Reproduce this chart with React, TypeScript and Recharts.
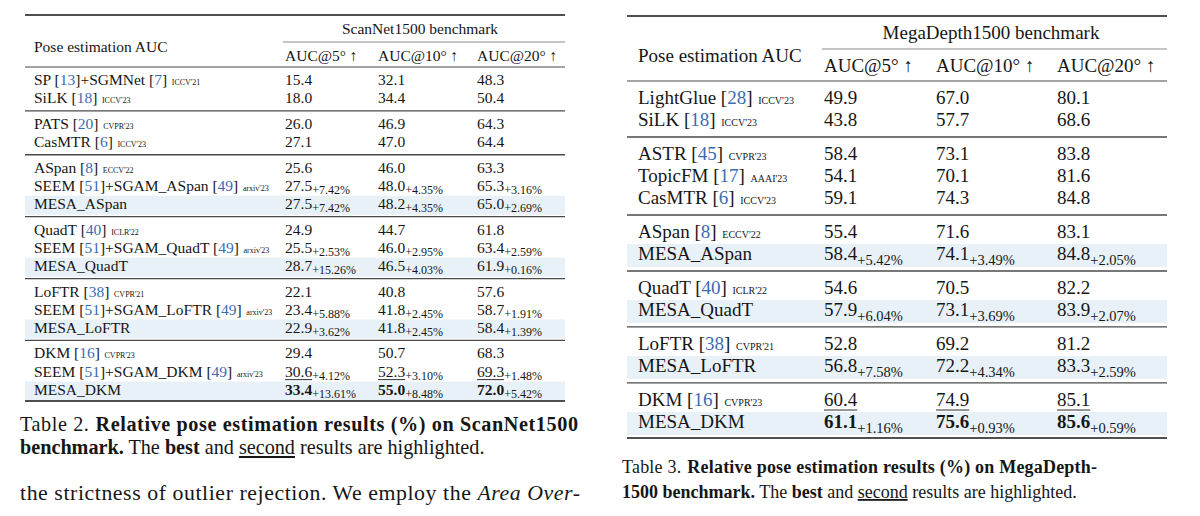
import React from 'react';
import { ScatterChart, Scatter, XAxis, YAxis, ReferenceLine, ReferenceArea } from 'recharts';

// Table 2: ScanNet1500
const scanTitle = 'ScanNet1500 benchmark';
const scanMethods = [
  'SP [13]+SGMNet [7]', 'SiLK [18]',
  'PATS [20]', 'CasMTR [6]',
  'ASpan [8]', 'SEEM [51]+SGAM_ASpan [49]', 'MESA_ASpan',
  'QuadT [40]', 'SEEM [51]+SGAM_QuadT [49]', 'MESA_QuadT',
  'LoFTR [38]', 'SEEM [51]+SGAM_LoFTR [49]', 'MESA_LoFTR',
  'DKM [16]', 'SEEM [51]+SGAM_DKM [49]', 'MESA_DKM',
];
const scanVenues = ["ICCV'21", "ICCV'23", "CVPR'23", "ICCV'23", "ECCV'22", "arxiv'23", '', "ICLR'22", "arxiv'23", '', "CVPR'21", "arxiv'23", '', "CVPR'23", "arxiv'23", ''];
const scanGroups = [0, 0, 1, 1, 2, 2, 2, 3, 3, 3, 4, 4, 4, 5, 5, 5];
const scanAuc5 = [15.4, 18.0, 26.0, 27.1, 25.6, 27.5, 27.5, 24.9, 25.5, 28.7, 22.1, 23.4, 22.9, 29.4, 30.6, 33.4];
const scanAuc10 = [32.1, 34.4, 46.9, 47.0, 46.0, 48.0, 48.2, 44.7, 46.0, 46.5, 40.8, 41.8, 41.8, 50.7, 52.3, 55.0];
const scanAuc20 = [48.3, 50.4, 64.3, 64.4, 63.3, 65.3, 65.0, 61.8, 63.4, 61.9, 57.6, 58.7, 58.4, 68.3, 69.3, 72.0];
const scanGain5 = [null, null, null, null, null, 7.42, 7.42, null, 2.53, 15.26, null, 5.88, 3.62, null, 4.12, 13.61];
const scanGain10 = [null, null, null, null, null, 4.35, 4.35, null, 2.95, 4.03, null, 2.45, 2.45, null, 3.10, 8.48];
const scanGain20 = [null, null, null, null, null, 3.16, 2.69, null, 2.59, 0.16, null, 1.91, 1.39, null, 1.48, 5.42];
const scanShaded = [6, 9, 12, 15];
const scanBest = 15;
const scanSecond = 14;

// Table 3: MegaDepth1500
const megaTitle = 'MegaDepth1500 benchmark';
const megaMethods = [
  'LightGlue [28]', 'SiLK [18]',
  'ASTR [45]', 'TopicFM [17]', 'CasMTR [6]',
  'ASpan [8]', 'MESA_ASpan',
  'QuadT [40]', 'MESA_QuadT',
  'LoFTR [38]', 'MESA_LoFTR',
  'DKM [16]', 'MESA_DKM',
];
const megaVenues = ["ICCV'23", "ICCV'23", "CVPR'23", "AAAI'23", "ICCV'23", "ECCV'22", '', "ICLR'22", '', "CVPR'21", '', "CVPR'23", ''];
const megaGroups = [0, 0, 1, 1, 1, 2, 2, 3, 3, 4, 4, 5, 5];
const megaAuc5 = [49.9, 43.8, 58.4, 54.1, 59.1, 55.4, 58.4, 54.6, 57.9, 52.8, 56.8, 60.4, 61.1];
const megaAuc10 = [67.0, 57.7, 73.1, 70.1, 74.3, 71.6, 74.1, 70.5, 73.1, 69.2, 72.2, 74.9, 75.6];
const megaAuc20 = [80.1, 68.6, 83.8, 81.6, 84.8, 83.1, 84.8, 82.2, 83.9, 81.2, 83.3, 85.1, 85.6];
const megaGain5 = [null, null, null, null, null, null, 5.42, null, 6.04, null, 7.58, null, 1.16];
const megaGain10 = [null, null, null, null, null, null, 3.49, null, 3.69, null, 4.34, null, 0.93];
const megaGain20 = [null, null, null, null, null, null, 2.05, null, 2.07, null, 2.59, null, 0.59];
const megaShaded = [6, 8, 10, 12];
const megaBest = 12;
const megaSecond = 11;

const rowHeader = 'Pose estimation AUC';
const aucHeaders = ['AUC@5° ↑', 'AUC@10° ↑', 'AUC@20° ↑'];

const SERIF = '"Liberation Serif", "Times New Roman", Times, serif';
const INK = '#161616';
const BLUE = '#3a6cb2';
const SHADE = '#e8f1f8';

type Layout = {
  width: number; height: number;
  row0: number; pitch: number; gapRows: number;
  font: number; subFont: number; subDrop: number; venueFont: number;
  labelX: number; colX: number[];
  left: number; right: number; cmidLeft: number;
  titleX: number; titleY: number; headY: number; poseY: number;
  topRule: number; cmidRule: number; headRule: number;
  bandUp: number; bandDown: number; bottomPad: number;
};

const scanLayout: Layout = {
  width: 600, height: 410,
  row0: 80, pitch: 18.1, gapRows: 0.42,
  font: 15.5, subFont: 12, subDrop: 3.5, venueFont: 8,
  labelX: 34, colX: [285, 378, 477],
  left: 25, right: 565, cmidLeft: 283,
  titleX: 420, titleY: 29, headY: 56, poseY: 47,
  topRule: 15, cmidRule: 42, headRule: 67,
  bandUp: 8, bandDown: 11, bottomPad: 11.5,
};

const megaLayout: Layout = {
  width: 600, height: 450,
  row0: 98, pitch: 22, gapRows: 0.545,
  font: 19, subFont: 14.5, subDrop: 4.5, venueFont: 10,
  labelX: 38, colX: [224, 336, 457],
  left: 27, right: 567, cmidLeft: 222,
  titleX: 391, titleY: 33, headY: 66, poseY: 56,
  topRule: 16, cmidRule: 49, headRule: 81,
  bandUp: 10, bandDown: 13, bottomPad: 16,
};

function renderCell(p: any, L: Layout) {
  const { cx, cy, payload } = p;
  const base = cy + L.font * 0.33;
  if (payload.kind === 'title' || payload.kind === 'head') {
    return (
      <text x={cx} y={base} fontFamily={SERIF} fontSize={L.font} fill={INK}
        textAnchor={payload.kind === 'title' ? 'middle' : 'start'}>
        {payload.text}
      </text>
    );
  }
  if (payload.kind === 'label') {
    const parts = String(payload.text).split(/(\[\d+\])/).filter(Boolean);
    return (
      <text x={cx} y={base} fontFamily={SERIF} fontSize={L.font} fill={INK}>
        {parts.map((s: string, k: number) => {
          const m = s.match(/^\[(\d+)\]$/);
          if (!m) return <tspan key={k}>{s}</tspan>;
          return (
            <React.Fragment key={k}>
              <tspan>[</tspan><tspan fill={BLUE}>{m[1]}</tspan><tspan>]</tspan>
            </React.Fragment>
          );
        })}
        {payload.venue ? (
          <tspan dx={L.font * 0.3} fontSize={L.venueFont}>{payload.venue}</tspan>
        ) : null}
      </text>
    );
  }
  const txt = payload.value.toFixed(1);
  const w = txt.length * 0.5 * L.font - 0.25 * L.font;
  return (
    <g>
      <text x={cx} y={base} fontFamily={SERIF} fontSize={L.font} fill={INK}>
        <tspan fontWeight={payload.best ? 700 : 400}>{txt}</tspan>
        {payload.gain != null ? (
          <tspan fontSize={L.subFont} dy={L.subDrop}>{'+' + payload.gain.toFixed(2) + '%'}</tspan>
        ) : null}
      </text>
      {payload.second ? (
        <line x1={cx} x2={cx + w} y1={base + L.font * 0.2} y2={base + L.font * 0.2} stroke={INK} strokeWidth={0.9} />
      ) : null}
    </g>
  );
}

type TableProps = {
  L: Layout; title: string; methods: string[]; venues: string[]; groups: number[];
  cols: number[][]; gains: (number | null)[][]; shaded: number[]; best: number; second: number;
};

function BenchTable({ L, title, methods, venues, groups, cols, gains, shaded, best, second }: TableProps) {
  const pos = groups.map((g, i) => i + g * L.gapRows);
  const u = (px: number) => (px - L.row0) / L.pitch;
  const headData = [
    { x: L.titleX, y: u(L.titleY), kind: 'title', text: title },
    { x: L.labelX, y: u(L.poseY), kind: 'head', text: rowHeader },
    ...aucHeaders.map((h, c) => ({ x: L.colX[c], y: u(L.headY), kind: 'head', text: h })),
  ];
  const labelData = methods.map((m, i) => ({ x: L.labelX, y: pos[i], kind: 'label', text: m, venue: venues[i] }));
  const colData = cols.map((vals, c) =>
    vals.map((v, i) => ({ x: L.colX[c], y: pos[i], kind: 'value', value: v, gain: gains[c][i], best: i === best, second: i === second })),
  );
  const groupRules: number[] = [];
  for (let i = 0; i < groups.length - 1; i++) {
    if (groups[i] !== groups[i + 1]) groupRules.push((pos[i] + pos[i + 1]) / 2);
  }
  const last = pos[pos.length - 1];
  const seg = (y: number, x1 = L.left) => [{ x: x1, y }, { x: L.right, y }];
  const shape = (p: any) => renderCell(p, L);

  return (
    <ScatterChart width={L.width} height={L.height} margin={{ top: 0, right: 0, bottom: 0, left: 0 }}>
      <XAxis type="number" dataKey="x" domain={[0, L.width]} allowDataOverflow hide />
      <YAxis type="number" dataKey="y" domain={[u(0), u(L.height)]} allowDataOverflow reversed hide />
      {shaded.map((i) => (
        <ReferenceArea key={'b' + i} x1={L.left} x2={L.right} y1={pos[i] - L.bandUp / L.pitch} y2={pos[i] + L.bandDown / L.pitch}
          fill={SHADE} fillOpacity={1} stroke="none" />
      ))}
      <ReferenceLine segment={seg(u(L.topRule))} stroke={INK} strokeWidth={1.6} />
      <ReferenceLine segment={seg(u(L.cmidRule), L.cmidLeft)} stroke="#8c8c8c" strokeWidth={1.2} />
      <ReferenceLine segment={seg(u(L.headRule))} stroke="#4a4a4a" strokeWidth={1.2} />
      {groupRules.map((y, k) => (
        <ReferenceLine key={'g' + k} segment={seg(y)} stroke="#4a4a4a" strokeWidth={1.3} />
      ))}
      <ReferenceLine segment={seg(last + L.bottomPad / L.pitch)} stroke={INK} strokeWidth={1.6} />
      <Scatter data={headData} shape={shape} isAnimationActive={false} />
      <Scatter data={labelData} shape={shape} isAnimationActive={false} />
      {colData.map((d, c) => (
        <Scatter key={'c' + c} data={d} shape={shape} isAnimationActive={false} />
      ))}
    </ScatterChart>
  );
}

export default function App() {
  return (
    <div style={{ position: 'absolute', left: 0, top: 0, width: 1200, height: 516, background: '#fff', overflow: 'hidden' }}>
      <div style={{ position: 'absolute', left: 0, top: 0 }}>
        <BenchTable L={scanLayout} title={scanTitle} methods={scanMethods} venues={scanVenues} groups={scanGroups}
          cols={[scanAuc5, scanAuc10, scanAuc20]} gains={[scanGain5, scanGain10, scanGain20]}
          shaded={scanShaded} best={scanBest} second={scanSecond} />
      </div>
      <div style={{ position: 'absolute', left: 600, top: 0 }}>
        <BenchTable L={megaLayout} title={megaTitle} methods={megaMethods} venues={megaVenues} groups={megaGroups}
          cols={[megaAuc5, megaAuc10, megaAuc20]} gains={[megaGain5, megaGain10, megaGain20]}
          shaded={megaShaded} best={megaBest} second={megaSecond} />
      </div>
      <svg width={1200} height={516} style={{ position: 'absolute', left: 0, top: 0 }} fontFamily={SERIF} fill={INK}>
        <text x={20} y={431} fontSize={20.2} textLength={558} lengthAdjust="spacing">
          Table 2.<tspan dx={6} fontWeight={700}>Relative pose estimation results (%) on ScanNet1500</tspan>
        </text>
        <text x={20} y={454} fontSize={20.2}>
          <tspan fontWeight={700}>benchmark.</tspan>{' The '}<tspan fontWeight={700}>best</tspan>{' and '}
          <tspan textDecoration="underline">second</tspan>{' results are highlighted.'}
        </text>
        <text x={20} y={500} fontSize={21.8} textLength={560} lengthAdjust="spacing">
          {'the strictness of outlier rejection. We employ the '}<tspan fontStyle="italic">Area Over-</tspan>
        </text>
        <text x={622} y={473} fontSize={18} textLength={475} lengthAdjust="spacing">
          Table 3.<tspan dx={6} fontWeight={700}>Relative pose estimation results (%) on MegaDepth-</tspan>
        </text>
        <text x={622} y={498} fontSize={18}>
          <tspan fontWeight={700}>1500 benchmark.</tspan>{' The '}<tspan fontWeight={700}>best</tspan>{' and '}
          <tspan textDecoration="underline">second</tspan>{' results are highlighted.'}
        </text>
      </svg>
    </div>
  );
}
